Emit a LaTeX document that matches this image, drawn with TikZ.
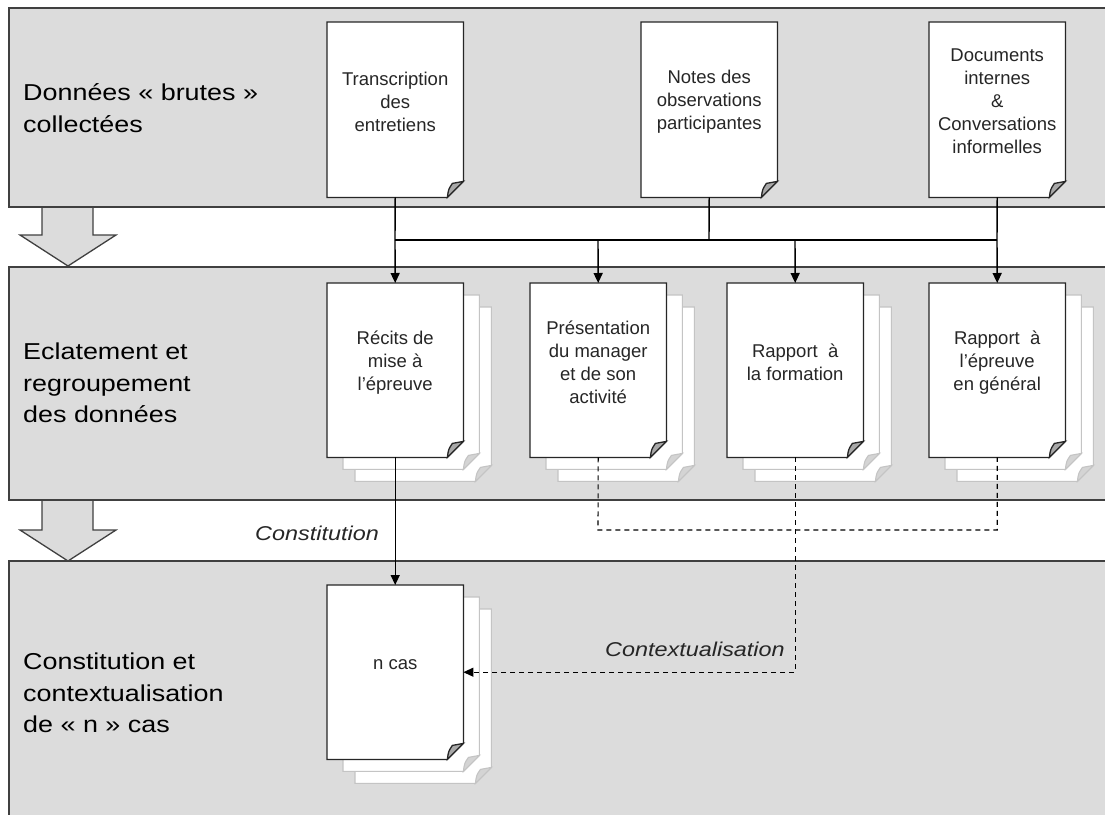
\documentclass[tikz,border=0pt]{standalone}
\usepackage{fontspec}
\setmainfont{Liberation Sans}
\newfontfamily\widefont[FakeStretch=1.17]{Liberation Sans}
\usetikzlibrary{arrows.meta}
\definecolor{bandgray}{HTML}{DCDCDC}
\definecolor{edge}{HTML}{404040}
\definecolor{ink}{HTML}{262626}
\definecolor{sheetedge}{HTML}{C4C4C4}
\definecolor{foldgray}{HTML}{A8A8A8}
\definecolor{foldlight}{HTML}{D4D4D4}
\tikzset{
  band/.style={fill=bandgray,draw=edge,line width=1.3pt},
  arrowbody/.style={fill=bandgray},
  arrowedge/.style={draw=edge,line width=1.3pt,line join=miter},
  topdoc/.style={minimum width=136pt,minimum height=175pt,inner sep=0pt,draw=none,anchor=north west},
  docbox/.style={minimum width=136pt,minimum height=174pt,inner sep=0pt,draw=none,anchor=north west},
  doctext/.style={align=center,text=ink,font=\fontsize{18.5}{23}\selectfont,inner sep=0pt},
  sidelabel/.style={align=left,anchor=west,text=black,font=\widefont\fontsize{23}{31.5}\selectfont,inner sep=0pt},
  flowlabel/.style={text=ink,font=\widefont\itshape\fontsize{20}{24}\selectfont,inner sep=0pt},
  mainsheet/.style={draw=ink,line width=1.3pt,line join=miter},
  backsheet/.style={draw=sheetedge,line width=1.1pt,line join=miter},
  conn/.style={draw=black,line width=1.4pt},
  tip/.style={-{Triangle[length=10pt,width=9pt]}},
  dashconn/.style={draw=black,line width=1.1pt,dash pattern=on 5pt off 4pt},
}
% #1 node, #2 dx, #3 dy, #4 style, #5 fold fill
\newcommand{\pageshape}[5]{%
  \filldraw[fill=white,#4] ([shift={(#2,#3)}]#1.north west) -- ([shift={(#2,#3)}]#1.north east)
    -- ([shift={(#2,#3-16)}]#1.south east) -- ([shift={(#2-16,#3)}]#1.south east)
    -- ([shift={(#2,#3)}]#1.south west) -- cycle;
  \filldraw[fill=#5,#4] ([shift={(#2-16,#3)}]#1.south east)
    .. controls ([shift={(#2-15,#3-8)}]#1.south east) .. ([shift={(#2-11,#3-14)}]#1.south east)
    -- ([shift={(#2,#3-16)}]#1.south east) -- cycle;
}
\newcommand{\stackshape}[1]{%
  \pageshape{#1}{28}{24}{backsheet}{foldlight}%
  \pageshape{#1}{16}{12}{backsheet}{foldlight}%
  \pageshape{#1}{0}{0}{mainsheet}{foldgray}%
}
\begin{document}
\begin{tikzpicture}[x=1pt,y=-1pt]
\useasboundingbox (0,0) rectangle (1105,814);
% bands
\path[band] (9,8) rectangle (1120,207);
\path[band] (9,267) rectangle (1120,500);
\path[band] (9,561) rectangle (1120,830);
% big arrows between bands
\fill[arrowbody] (42,208) -- (93,208) -- (93,235) -- (116,235) -- (68,266) -- (20,235) -- (42,235) -- cycle;
\draw[arrowedge] (42,207) -- (42,235) -- (20,235) -- (68,266) -- (116,235) -- (93,235) -- (93,207);
\fill[arrowbody] (42,501) -- (93,501) -- (93,530) -- (116,530) -- (68,561) -- (20,530) -- (42,530) -- cycle;
\draw[arrowedge] (42,500) -- (42,530) -- (20,530) -- (68,561) -- (116,530) -- (93,530) -- (93,500);
% side labels
\node[sidelabel] (L1) at (23,108) {Données « brutes »\\collectées};
\node[sidelabel] (L2) at (23,383) {Eclatement et\\regroupement\\des données};
\node[sidelabel] (L3) at (23,693) {Constitution et\\contextualisation\\de « n » cas};
% top documents
\node[topdoc] (T1) at (327,22) {};
\node[topdoc] (T2) at (641,22) {};
\node[topdoc] (T3) at (929,22) {};
\pageshape{T1}{0}{0}{mainsheet}{foldgray}
\pageshape{T2}{0}{0}{mainsheet}{foldgray}
\pageshape{T3}{0}{0}{mainsheet}{foldgray}
\node[doctext] (T1t) at ([yshift=8pt]T1.center) {Transcription\\des\\entretiens};
\node[doctext] (T2t) at ([yshift=8pt]T2.center) {Notes des\\observations\\participantes};
\node[doctext] (T3t) at ([yshift=8pt]T3.center) {Documents\\internes\\\&\\Conversations\\informelles};
% second row documents
\node[docbox] (A) at (327,283) {};
\node[docbox] (B) at (530,283) {};
\node[docbox] (C) at (727,283) {};
\node[docbox] (D) at (929,283) {};
\stackshape{A}
\stackshape{B}
\stackshape{C}
\stackshape{D}
\node[doctext] (At) at ([yshift=8pt]A.center) {Récits de\\mise à\\l’épreuve};
\node[doctext] (Bt) at ([yshift=8pt]B.center) {Présentation\\du manager\\et de son\\activité};
\node[doctext] (Ct) at ([yshift=8pt]C.center) {Rapport~ à\\la formation};
\node[doctext] (Dt) at ([yshift=8pt]D.center) {Rapport~ à\\l’épreuve\\en général};
% cases
\node[docbox] (N) at (327,585) {};
\stackshape{N}
\node[doctext] (Nt) at ([yshift=8pt]N.center) {n cas};
% bus
\coordinate (b1) at (395,240);
\coordinate (b2) at (709,240);
\coordinate (b3) at (997,240);
\coordinate (bB) at (598,240);
\coordinate (bC) at (795,240);
\draw[conn] (T1.south) -- (b1);
\draw[conn] (T2.south) -- (b2);
\draw[conn] (T3.south) -- (b3);
\draw[conn] (b1) -- (b3);
\draw[conn,tip] (b1) -- (A.north);
\draw[conn,tip] (bB) -- (B.north);
\draw[conn,tip] (bC) -- (C.north);
\draw[conn,tip] (b3) -- (D.north);
% constitution
\draw[conn,tip] (A.south) -- (N.north);
\node[flowlabel,anchor=base east] (lc) at (379,540) {Constitution};
% dashed links
\coordinate (dj) at (598,530);
\draw[dashconn] (B.south) -- (dj) -| (D.south);
\draw[dashconn,tip] (C.south) |- (N.east);
\node[flowlabel,anchor=base west] (lx) at (605,656) {Contextualisation};
\end{tikzpicture}
\end{document}
